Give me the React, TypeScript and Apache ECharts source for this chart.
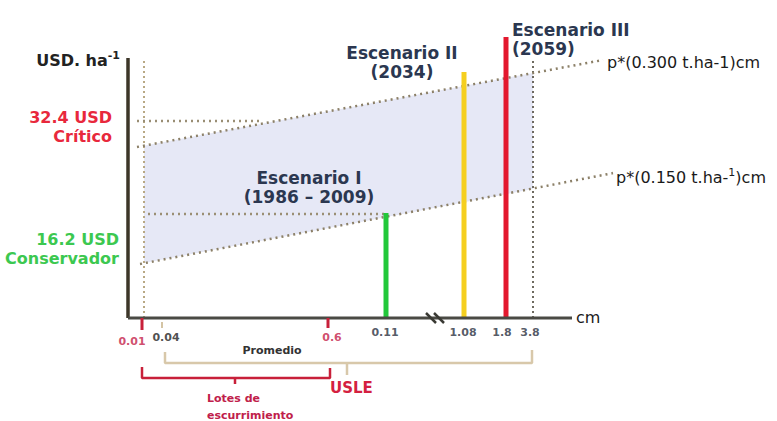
import React, { useEffect, useRef } from "react";
import * as echarts from "echarts";

// ---- Data (schematic units: x 0..100, y -24..100) ----
const scenarioNames = ["Escenario I", "Escenario II", "Escenario III"];
const scenarioYears = ["(1986 – 2009)", "(2034)", "(2059)"];
const scenarioX = [51.6, 67.2, 75.6];
const scenarioTop = [35, 82, 93.7];

const tickLabels = ["0.01", "0.04", "0.6", "0.11", "1.08", "1.8", "3.8"];
const tickX = [0.8, 7.6, 40.8, 51.4, 67, 74.8, 80.4];

const upperLine = [[1.8, 57], [95, 86]]; // p*(0.300 t.ha-1)cm
const lowerLine = [[2.4, 18], [97, 48.3]]; // p*(0.150 t.ha-1)cm
const criticoLevel = [[1.8, 65.7], [27, 65.7]];
const conservLevel = [[4, 34.7], [51.6, 34.7]];
const band = [[3.2, 57.4, 18.3], [81, 81.7, 43]]; // x, upper, lower

const yAxisLine = [[0, 0], [0, 86.7]];
const xAxisLine = [[0, 0], [88.8, 0]];
const refLeft = [[3.2, 0], [3.2, 86.7]];
const refRight = [[81, 0], [81, 86]];

const redTicks = [[[2.8, 0], [2.8, -4]], [[40, 0], [40, -3.3]]];
const tanTick = [[6.8, -1.3], [6.8, -3.3]];
const tanBracket = [[7.4, -11.3], [7.4, -15], [80.8, -15], [80.8, -10.7]];
const tanPointer = [[43.8, -15], [43.8, -19]];
const redBracket = [[2.8, -16.3], [2.8, -20], [40.4, -20], [40.4, -16.7]];
const redPointer = [[21.4, -20], [21.4, -22]];

// ---- Styles ----
const barColors = ["#22c83a", "#f5cf1f", "#e3182e"];
const tickColors = ["#c42048", "#222222", "#c42048", "#2a3040", "#2a3040", "#2a3040", "#2a3040"];
const tickDist = [17, 13, 13, 8, 8, 8, 8];
const FONT = "DejaVu Sans";

function polyline(data: number[][], color: string, width: number, type: any = "solid", z = 3) {
  return {
    type: "line",
    data,
    symbol: "none",
    silent: true,
    animation: false,
    z,
    lineStyle: { color, width, type, cap: "butt" },
  };
}

export default function App() {
  const ref = useRef<HTMLDivElement>(null);
  useEffect(() => {
    if (!ref.current) return;
    const chart = echarts.init(ref.current, undefined, { renderer: "svg" });
    const dot = [2, 4];
    const series: any[] = [
      {
        type: "custom",
        silent: true,
        z: 1,
        data: band,
        renderItem: (params: any, api: any) => {
          if (params.dataIndex !== 0) return null;
          const pts: number[][] = [];
          band.forEach((r) => pts.push(api.coord([r[0], r[1]])));
          band.slice().reverse().forEach((r) => pts.push(api.coord([r[0], r[2]])));
          return { type: "polygon", shape: { points: pts }, style: { fill: "#e6e8f6" } };
        },
      },
      polyline(refLeft, "#b8a884", 2, [2, 3], 2),
      polyline(refRight, "#6e6a60", 2, [2, 3], 2),
      polyline(upperLine, "#8c8068", 2.5, dot),
      polyline(lowerLine, "#8c8068", 2.5, dot),
      polyline(criticoLevel, "#9a8e74", 2.5, dot),
      polyline(conservLevel, "#9a8e74", 2.5, dot),
      {
        type: "bar",
        barWidth: 5,
        z: 4,
        silent: true,
        data: scenarioX.map((x, i) => ({ value: [x, scenarioTop[i]], itemStyle: { color: barColors[i] } })),
      },
      polyline(yAxisLine, "#3c3628", 3.5, "solid", 5),
      polyline(xAxisLine, "#4a4a44", 3, "solid", 5),
      polyline(redTicks[0], "#c8203a", 3, "solid", 6),
      polyline(redTicks[1], "#c8203a", 3, "solid", 6),
      polyline(tanTick, "#d4c4a4", 2, "solid", 6),
      polyline(tanBracket, "#d8c8aa", 2.5, "solid", 6),
      polyline(tanPointer, "#d8c8aa", 2.5, "solid", 6),
      polyline(redBracket, "#c8203a", 2.5, "solid", 6),
      polyline(redPointer, "#c8203a", 2.5, "solid", 6),
      {
        type: "scatter",
        silent: true,
        z: 7,
        symbolSize: 1,
        itemStyle: { color: "rgba(0,0,0,0)" },
        data: tickLabels.map((t, i) => ({
          value: [tickX[i], 0],
          name: t,
          label: {
            show: true,
            position: "bottom",
            distance: tickDist[i],
            formatter: t,
            color: tickColors[i],
            fontSize: 11,
            fontWeight: "bold",
            fontFamily: FONT,
          },
        })),
      },
    ];

    const txt = (text: string, x: number, y: number, fill: string, size: number, weight: string, align = "left", lh = size, extra: any = {}) => ({
      type: "text",
      x,
      y,
      z: 10,
      silent: true,
      style: {
        text,
        fill,
        fontSize: size,
        fontWeight: weight,
        fontFamily: FONT,
        lineHeight: lh,
        align,
        verticalAlign: "middle",
        ...extra,
      },
    });

    const navy = "#2b3750";
    const graphics: any[] = [
      txt("{n|USD. ha}{s|-1}", 120, 60, "#222222", 16, "bold", "right", 20, {
        rich: {
          n: { fontSize: 16, fontWeight: "bold", fontFamily: FONT, fill: "#222", lineHeight: 20 },
          s: { fontSize: 11, fontWeight: "bold", fontFamily: FONT, fill: "#222", lineHeight: 11, verticalAlign: "top" },
        },
      }),
      txt("32.4 USD\nCrítico", 112, 126.5, "#e8283c", 16, "bold", "right", 19),
      txt("16.2 USD\nConservador", 119, 248.5, "#3cc850", 16, "bold", "right", 19),
      txt(scenarioNames[0] + "\n" + scenarioYears[0], 309, 187.5, navy, 17, "bold", "center", 19),
      txt(scenarioNames[1] + "\n" + scenarioYears[1], 402, 62.5, navy, 17, "bold", "center", 19),
      txt(scenarioNames[2] + "\n" + scenarioYears[2], 512, 39, navy, 17, "bold", "left", 19),
      txt("p*(0.300 t.ha-1)cm", 607, 62, "#1a1a1a", 16, "normal", "left"),
      txt("{n|p*(0.150 t.ha-}{s|1}{n|)cm}", 616, 177, "#1a1a1a", 16, "normal", "left", 20, {
        rich: {
          n: { fontSize: 16, fontFamily: FONT, fill: "#1a1a1a", lineHeight: 20 },
          s: { fontSize: 11, fontFamily: FONT, fill: "#1a1a1a", lineHeight: 11, verticalAlign: "top" },
        },
      }),
      txt("cm", 576, 317, "#1a1a1a", 16, "normal", "left"),
      txt("Promedio", 272, 350, "#333333", 11, "bold", "center"),
      txt("USLE", 330, 388, "#d42040", 15, "bold", "left"),
      txt("Lotes de\nescurrimiento", 207, 406.5, "#c0204a", 11, "bold", "left", 17),
      {
        type: "line",
        z: 8,
        silent: true,
        shape: { x1: 426, y1: 313, x2: 436, y2: 323 },
        style: { stroke: "#3a3a34", lineWidth: 2.5 },
      },
      {
        type: "line",
        z: 8,
        silent: true,
        shape: { x1: 434, y1: 313, x2: 444, y2: 323 },
        style: { stroke: "#3a3a34", lineWidth: 2.5 },
      },
    ];

    chart.setOption({
      animation: false,
      backgroundColor: "#ffffff",
      grid: { left: 128, top: 18, right: 149, bottom: 31 },
      xAxis: { type: "value", min: 0, max: 100, show: false },
      yAxis: { type: "value", min: -24, max: 100, show: false },
      series,
      graphic: graphics,
    });
    return () => chart.dispose();
  }, []);
  return <div ref={ref} style={{ position: "fixed", left: 0, top: 0, width: 777, height: 421 }} />;
}
